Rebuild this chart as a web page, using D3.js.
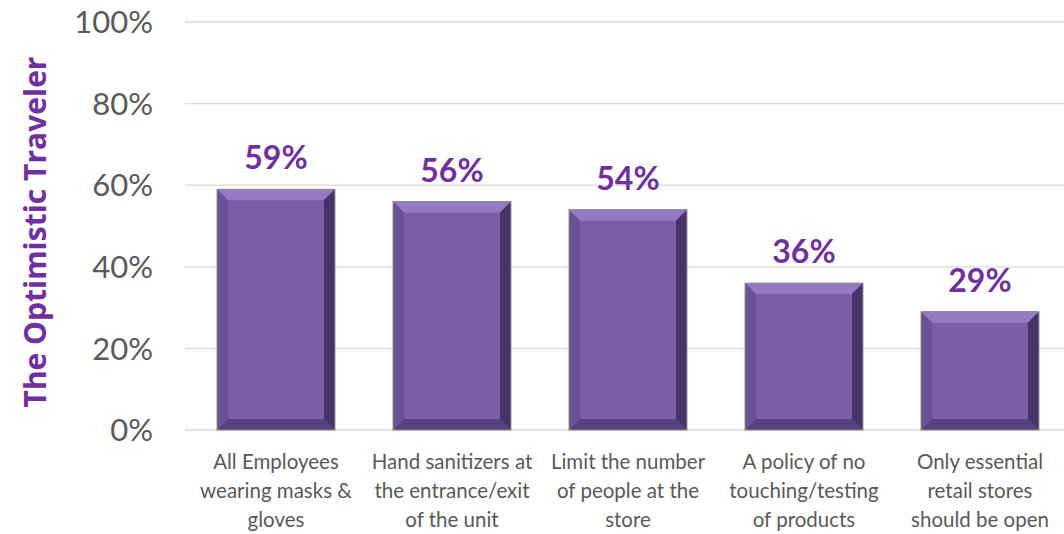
<!DOCTYPE html>
<html>
<head>
<script src="https://d3js.org/d3.v7.min.js"></script>
<style>
body { margin: 0; background: #fff; }
text { font-family: Lato, "Open Sans", sans-serif; }
</style>
</head>
<body>
<svg id="chart" width="1064" height="534"></svg>
<script>
// chart data
var categories = [
  ["All Employees", "wearing masks &", "gloves"],
  ["Hand sanitizers at", "the entrance/exit", "of the unit"],
  ["Limit the number", "of people at the", "store"],
  ["A policy of no", "touching/testing", "of products"],
  ["Only essential", "retail stores", "should be open"]
];
var values = [59, 56, 54, 36, 29];
var yTicks = [0, 20, 40, 60, 80, 100];

var svg = d3.select("#chart");

var x = d3.scaleBand()
  .domain(d3.range(categories.length))
  .range([188, 1068])
  .paddingInner(0.33)
  .paddingOuter(0.165);

var y = d3.scaleLinear()
  .domain([0, 100])
  .range([430, 22]);

// gridlines
svg.append("g").selectAll("line")
  .data(yTicks)
  .enter().append("line")
  .attr("x1", 185).attr("x2", 1064)
  .attr("y1", function(d) { return y(d); })
  .attr("y2", function(d) { return y(d); })
  .attr("stroke", "#d9d9d9")
  .attr("stroke-width", 1.3);

// y tick labels
svg.append("g").selectAll("text")
  .data(yTicks)
  .enter().append("text")
  .attr("x", 153)
  .attr("y", function(d) { return y(d); })
  .attr("dy", "0.36em")
  .attr("text-anchor", "end")
  .attr("fill", "#595959")
  .style("font-size", "31px")
  .text(function(d) { return d + "%"; });

// axis title
svg.append("text")
  .attr("transform", "translate(46,232) rotate(-90)")
  .attr("text-anchor", "middle")
  .attr("fill", "#7030a0")
  .style("font-family", "'Open Sans', sans-serif")
  .style("font-size", "30px")
  .style("font-weight", "bold")
  .text("The Optimistic Traveler");

// bars with bevel
var bev = 11;
var bars = svg.append("g").selectAll("g")
  .data(values)
  .enter().append("g");

bars.each(function(d, i) {
  var g = d3.select(this);
  var x0 = x(i), x1 = x(i) + x.bandwidth();
  var y0 = y(d), y1 = y(0);
  g.append("rect")
    .attr("x", x0).attr("y", y0)
    .attr("width", x1 - x0).attr("height", y1 - y0)
    .attr("fill", "#7b5ea7");
  var sides = [
    { pts: [[x0, y0], [x1, y0], [x1 - bev, y0 + bev], [x0 + bev, y0 + bev]], c: "#9579c2" },
    { pts: [[x1, y0], [x1, y1], [x1 - bev, y1 - bev], [x1 - bev, y0 + bev]], c: "#45336a" },
    { pts: [[x0, y1], [x1, y1], [x1 - bev, y1 - bev], [x0 + bev, y1 - bev]], c: "#56407e" },
    { pts: [[x0, y0], [x0, y1], [x0 + bev, y1 - bev], [x0 + bev, y0 + bev]], c: "#6c5196" }
  ];
  sides.forEach(function(s) {
    g.append("polygon")
      .attr("points", s.pts.map(function(p) { return p.join(","); }).join(" "))
      .attr("fill", s.c);
  });
  g.append("rect")
    .attr("x", x0).attr("y", y0)
    .attr("width", x1 - x0).attr("height", y1 - y0)
    .attr("fill", "none")
    .attr("stroke", "#8c8c8c")
    .attr("stroke-width", 1);
});

// value labels
svg.append("g").selectAll("text")
  .data(values)
  .enter().append("text")
  .attr("x", function(d, i) { return x(i) + x.bandwidth() / 2; })
  .attr("y", function(d) { return y(d) - 20; })
  .attr("text-anchor", "middle")
  .attr("fill", "#7030a0")
  .style("font-size", "32px")
  .style("font-weight", "bold")
  .text(function(d) { return d + "%"; });

// category labels
var cat = svg.append("g").selectAll("text")
  .data(categories)
  .enter().append("text")
  .attr("x", function(d, i) { return x(i) + x.bandwidth() / 2; })
  .attr("y", 469)
  .attr("text-anchor", "middle")
  .attr("fill", "#595959")
  .style("font-size", "20.5px");

cat.selectAll("tspan")
  .data(function(d) { return d; })
  .enter().append("tspan")
  .attr("x", function() { return d3.select(this.parentNode).attr("x"); })
  .attr("dy", function(d, j) { return j === 0 ? 0 : 29; })
  .text(function(d) { return d; });
</script>
</body>
</html>
